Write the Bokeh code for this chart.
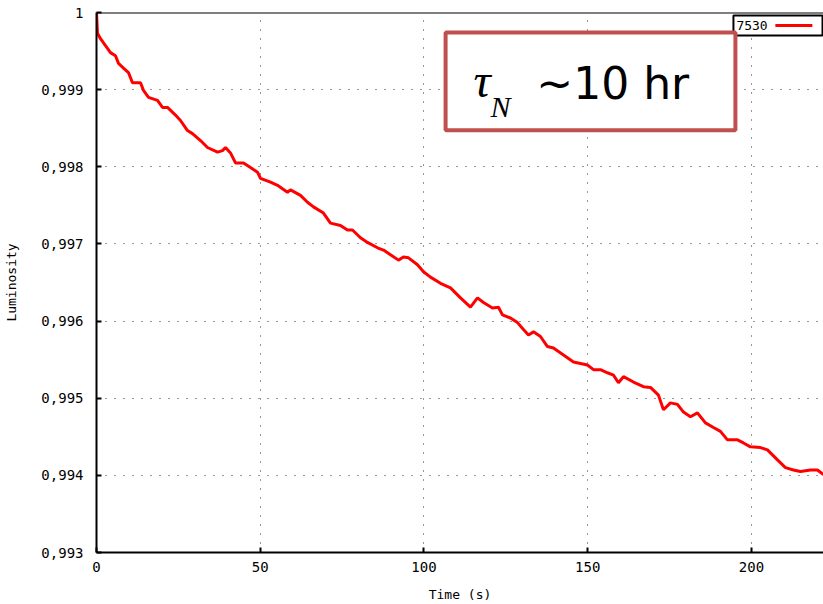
from bokeh.plotting import figure
from bokeh.models import Range1d, FixedTicker, BoxAnnotation, Label, Span
from bokeh.embed import file_html
from bokeh.resources import INLINE

# ---- data ----
time_s = [0.0, 0.3, 1.22, 4.27, 5.80, 6.72, 8.24, 9.77, 10.99, 13.44, 14.35, 15.88,
          18.63, 20.15, 21.68, 24.12, 25.65, 27.79, 29.31, 31.76, 33.89, 36.95, 38.47,
          39.39, 40.92, 42.44, 44.89, 47.02, 49.16, 50.08, 53.13, 55.27, 58.32, 59.24,
          62.29, 64.43, 66.26, 69.31, 71.45, 74.50, 76.64, 78.17, 80.61, 82.75, 85.80,
          87.63, 89.77, 92.21, 93.74, 95.27, 98.02, 99.85, 101.98, 105.04, 108.09,
          111.15, 114.20, 116.34, 118.17, 120.92, 122.75, 123.97, 126.41, 128.55,
          130.38, 131.91, 133.44, 135.57, 137.71, 139.54, 142.60, 145.65, 149.92,
          151.76, 153.89, 156.03, 157.86, 159.39, 160.92, 163.97, 167.02, 169.16,
          171.60, 173.13, 175.27, 177.40, 179.24, 181.37, 183.51, 185.95, 188.40,
          190.53, 192.67, 195.73, 197.56, 199.69, 202.75, 204.89, 207.94, 210.38,
          212.82, 214.96, 218.02, 220.15, 222.0]
luminosity = [1.0, 0.99973, 0.99966, 0.99948, 0.99944, 0.99934, 0.99928, 0.99922,
              0.99909, 0.99909, 0.99899, 0.99890, 0.99886, 0.99877, 0.99877, 0.99867,
              0.99860, 0.99847, 0.99843, 0.99834, 0.99825, 0.99819, 0.99821, 0.99825,
              0.99818, 0.99805, 0.99805, 0.99799, 0.99793, 0.99785, 0.99780, 0.99776,
              0.99767, 0.99770, 0.99763, 0.99754, 0.99748, 0.99740, 0.99727, 0.99724,
              0.99718, 0.99718, 0.99708, 0.99702, 0.99695, 0.99692, 0.99686, 0.99679,
              0.99683, 0.99682, 0.99673, 0.99664, 0.99657, 0.99649, 0.99643, 0.99630,
              0.99618, 0.99630, 0.99624, 0.99617, 0.99618, 0.99608, 0.99604, 0.99598,
              0.99589, 0.99582, 0.99586, 0.99580, 0.99567, 0.99565, 0.99556, 0.99547,
              0.99543, 0.99537, 0.99537, 0.99533, 0.99530, 0.99520, 0.99528, 0.99521,
              0.99515, 0.99514, 0.99504, 0.99485, 0.99494, 0.99492, 0.99482, 0.99476,
              0.99481, 0.99468, 0.99462, 0.99457, 0.99446, 0.99446, 0.99442, 0.99437,
              0.99436, 0.99433, 0.99420, 0.99410, 0.99407, 0.99405, 0.99407, 0.99407,
              0.99401]
x_ticks = [0, 50, 100, 150, 200]
y_ticks = [0.993, 0.994, 0.995, 0.996, 0.997, 0.998, 0.999, 1.0]
y_tick_labels = ["0,993", "0,994", "0,995", "0,996", "0,997", "0,998", "0,999", "1"]
series_name = "7530"
x_label = "Time (s)"
y_label = "Luminosity"
note_symbol = "τ"
note_sub = "N"
note_text = "~10 hr"

MONO = "DejaVu Sans Mono"

p = figure(width=823, height=604, output_backend="svg", toolbar_location=None,
           x_range=Range1d(0, 222.0), y_range=Range1d(0.993, 1.0),
           min_border_left=96, min_border_right=0, min_border_top=12,
           min_border_bottom=51, background_fill_color="white",
           border_fill_color="white")
p.outline_line_color = None

for g in (p.xgrid[0], p.ygrid[0]):
    g.grid_line_color = "black"
    g.grid_line_alpha = 0.8
    g.grid_line_dash = "1 8"
    g.grid_line_width = 1
p.xgrid[0].ticker = FixedTicker(ticks=x_ticks)
p.ygrid[0].ticker = FixedTicker(ticks=y_ticks)

p.line(time_s, luminosity, line_color="#ff0000", line_width=3)

# axes styling
for ax in (p.xaxis[0], p.yaxis[0]):
    ax.axis_line_color = "black"
    ax.axis_line_width = 2
    ax.major_tick_line_color = "black"
    ax.major_tick_line_width = 2
    ax.major_tick_in = 5
    ax.major_tick_out = 0
    ax.minor_tick_line_color = None
    ax.major_label_text_font = MONO
    ax.major_label_text_font_size = "14px"
    ax.major_label_text_color = "black"
    ax.axis_label_text_font = MONO
    ax.axis_label_text_font_size = "13px"
    ax.axis_label_text_font_style = "normal"
    ax.axis_label_text_color = "black"

p.xaxis[0].ticker = FixedTicker(ticks=x_ticks)
p.yaxis[0].ticker = FixedTicker(ticks=y_ticks)
p.yaxis[0].major_label_overrides = {t: l for t, l in zip(y_ticks, y_tick_labels)}
p.xaxis[0].axis_label = x_label
p.yaxis[0].axis_label = y_label
p.xaxis[0].major_label_standoff = 9
p.xaxis[0].axis_label_standoff = 12
p.yaxis[0].major_label_standoff = 13
p.yaxis[0].axis_label_standoff = 19

# top border of the frame
p.add_layout(Span(location=1.0, dimension="width", line_color="black", line_width=2))

# legend (key after label, gnuplot style)
p.add_layout(BoxAnnotation(left=194.5, right=221.7, top=0.999961, bottom=0.999702,
                           fill_color="white", fill_alpha=1, line_color="black",
                           line_alpha=1, line_width=2))
p.add_layout(Label(x=195.4, y=0.999832, text=series_name, text_font=MONO,
                   text_font_size="13px", text_baseline="middle", text_align="left",
                   text_color="black"))
p.add_layout(BoxAnnotation(left=207.3, right=218.6, top=0.999851, bottom=0.999813,
                           fill_color="#ff0000", fill_alpha=1, line_color=None))

# annotation box
p.add_layout(BoxAnnotation(left=106.6, right=195.1, top=0.99974, bottom=0.998473,
                           fill_color="white", fill_alpha=1, line_color="#c0504d",
                           line_alpha=1, line_width=4))
p.add_layout(Label(x=115.1, y=0.99912, text=note_symbol, text_font="Liberation Serif",
                   text_font_style="italic", text_font_size="48px",
                   text_baseline="alphabetic", text_color="black"))
p.add_layout(Label(x=120.3, y=0.998777, text=note_sub, text_font="Liberation Serif",
                   text_font_style="italic", text_font_size="30px",
                   text_baseline="alphabetic", text_color="black"))
p.add_layout(Label(x=134.3, y=0.999075, text=note_text, text_font="DejaVu Sans",
                   text_font_size="44px", text_baseline="alphabetic",
                   text_color="black"))

open("out.html", "w").write(file_html(p, INLINE))
